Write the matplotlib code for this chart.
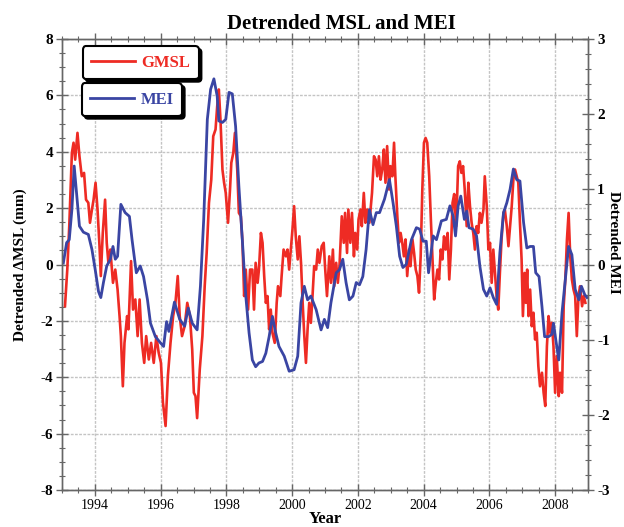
import matplotlib
matplotlib.use("Agg")
import matplotlib.pyplot as plt
from matplotlib.lines import Line2D
from matplotlib.ticker import MultipleLocator

# GMSL (detrended, mm), left axis
gmsl_year = [1993.09, 1993.16, 1993.22, 1993.30, 1993.35, 1993.40, 1993.47, 1993.53, 1993.60, 1993.67,
             1993.73, 1993.80, 1993.85, 1993.91, 1993.96, 1994.02, 1994.08, 1994.14, 1994.18, 1994.24,
             1994.31, 1994.36, 1994.41, 1994.47, 1994.55, 1994.62, 1994.69, 1994.75, 1994.79, 1994.85,
             1994.90, 1994.98, 1995.02, 1995.10, 1995.16, 1995.23, 1995.30, 1995.36, 1995.43, 1995.50,
             1995.56, 1995.64, 1995.71, 1995.79, 1995.87, 1995.94, 1996.01, 1996.07, 1996.15, 1996.22,
             1996.30, 1996.38, 1996.45, 1996.52, 1996.58, 1996.65, 1996.73, 1996.81, 1996.89, 1996.96,
             1997.01, 1997.06, 1997.11, 1997.19, 1997.27, 1997.34, 1997.40, 1997.47, 1997.54, 1997.60,
             1997.67, 1997.72, 1997.77, 1997.82, 1997.88, 1997.93, 1997.98, 1998.05, 1998.11, 1998.15,
             1998.21, 1998.26, 1998.33, 1998.38, 1998.44, 1998.49, 1998.54, 1998.59, 1998.66, 1998.72,
             1998.79, 1998.84, 1998.89, 1998.95, 1998.99, 1999.05, 1999.10, 1999.15, 1999.20, 1999.25,
             1999.30, 1999.35, 1999.40, 1999.47, 1999.53, 1999.57, 1999.64, 1999.68, 1999.74, 1999.81,
             1999.86, 1999.91, 1999.96, 2000.01, 2000.06, 2000.11, 2000.17, 2000.22, 2000.27, 2000.32,
             2000.37, 2000.42, 2000.47, 2000.52, 2000.57, 2000.62, 2000.67, 2000.73, 2000.78, 2000.83,
             2000.90, 2000.96, 2001.00, 2001.06, 2001.13, 2001.18, 2001.24, 2001.28, 2001.34, 2001.39,
             2001.44, 2001.51, 2001.57, 2001.61, 2001.67, 2001.71, 2001.77, 2001.82, 2001.88, 2001.92,
             2001.98, 2002.02, 2002.08, 2002.12, 2002.18, 2002.23, 2002.28, 2002.35, 2002.43, 2002.49,
             2002.54, 2002.59, 2002.64, 2002.69, 2002.74, 2002.79, 2002.84, 2002.89, 2002.95, 2002.99,
             2003.05, 2003.10, 2003.14, 2003.20, 2003.25, 2003.30, 2003.35, 2003.40, 2003.45, 2003.50,
             2003.56, 2003.60, 2003.66, 2003.71, 2003.76, 2003.81, 2003.86, 2003.91, 2003.96, 2004.01,
             2004.06, 2004.11, 2004.17, 2004.22, 2004.27, 2004.32, 2004.37, 2004.42, 2004.47, 2004.52,
             2004.57, 2004.62, 2004.67, 2004.73, 2004.78, 2004.83, 2004.88, 2004.93, 2004.99, 2005.05,
             2005.10, 2005.15, 2005.20, 2005.25, 2005.31, 2005.36, 2005.41, 2005.46, 2005.51, 2005.56,
             2005.61, 2005.66, 2005.71, 2005.76, 2005.82, 2005.86, 2005.92, 2005.97, 2006.02, 2006.07,
             2006.12, 2006.17, 2006.22, 2006.27, 2006.32, 2006.37, 2006.43, 2006.47, 2006.53, 2006.58,
             2006.63, 2006.68, 2006.73, 2006.78, 2006.83, 2006.88, 2006.93, 2006.98, 2007.02, 2007.07,
             2007.11, 2007.15, 2007.19, 2007.24, 2007.29, 2007.34, 2007.39, 2007.44, 2007.49, 2007.54,
             2007.60, 2007.65, 2007.70, 2007.75, 2007.80, 2007.85, 2007.90, 2007.95, 2008.00, 2008.05,
             2008.11, 2008.15, 2008.21, 2008.26, 2008.31, 2008.36, 2008.41, 2008.46, 2008.51, 2008.56,
             2008.61, 2008.66, 2008.71, 2008.76, 2008.82, 2008.87, 2008.92]
gmsl_mm = [-1.48, -0.18, 1.36, 3.96, 4.32, 3.72, 4.67, 3.84, 3.13, 3.25,
           2.30, 2.19, 1.48, 1.95, 2.30, 2.90, 1.95, 0.65, -0.41, 1.12,
           2.30, 0.77, 0.06, 0.53, -0.65, -0.18, -0.89, -1.83, -2.54, -4.32,
           -2.78, -1.83, -2.30, 0.12, -1.60, -1.24, -2.54, -1.24, -2.78, -3.49,
           -2.54, -3.37, -2.78, -3.49, -2.54, -3.13, -3.49, -4.90, -5.73, -3.96,
           -2.78, -1.83, -1.36, -0.41, -1.83, -2.54, -2.19, -1.36, -1.83, -3.01,
           -4.55, -4.67, -5.45, -3.72, -2.54, -0.77, 0.41, 2.19, 3.01, 4.55,
           4.79, 5.61, 6.21, 5.14, 3.37, 2.90, 2.54, 1.48, 2.66, 3.61,
           3.96, 4.67, 3.37, 1.83, 1.71, 0.77, -1.12, -0.18, -1.60, -0.18,
           -0.18, -1.60, 0.06, -0.65, -0.18, 1.12, 0.77, -0.41, -1.36, -1.12,
           -2.30, -1.60, -2.42, -2.78, -1.36, -0.77, -1.12, -0.41, 0.53, 0.29,
           0.53, -0.18, 0.53, 1.24, 2.07, 1.00, 0.18, 1.00, 0.06, -1.36,
           -2.54, -3.49, -2.30, -1.36, -2.07, -1.12, -0.06, -0.18, 0.53, 0.06,
           0.65, 0.77, -0.06, -1.12, 0.29, -0.65, 0.53, -0.77, 0.06, -0.65,
           -0.06, 1.71, 0.77, 1.83, 0.41, 1.95, 0.77, 1.83, 0.29, 1.12,
           0.53, 1.60, 1.95, 1.36, 2.54, 1.48, 1.95, 1.48, 2.54, 3.84,
           3.72, 3.13, 3.84, 3.01, 3.37, 4.08, 2.90, 4.20, 2.66, 3.49,
           3.13, 4.32, 3.13, 1.71, 0.77, 1.12, 0.77, 0.29, 0.89, -0.41,
           0.53, -0.06, 0.89, 0.41, -0.18, -0.41, -1.00, 0.29, 2.66, 4.32,
           4.49, 4.32, 3.13, 1.60, 0.18, -1.24, -0.65, -0.18, -0.53, 0.53,
           0.18, 1.00, 0.53, 1.12, -0.53, 0.53, 2.19, 2.50, 1.36, 3.49,
           3.66, 3.25, 3.49, 2.66, 1.36, 2.90, 2.07, 1.48, 1.12, 0.53,
           1.36, 1.12, 1.83, 1.48, 1.95, 3.13, 2.07, 0.53, 0.77, -0.65,
           0.53, -0.30, -1.12, -1.60, -0.30, 0.89, 1.83, 1.95, 1.36, 0.65,
           1.36, 2.07, 3.01, 3.37, 3.13, 2.90, 1.48, 0.18, -1.83, -0.30,
           -1.36, -0.18, -1.83, -0.89, -2.19, -1.71, -2.66, -2.42, -3.61, -4.32,
           -3.84, -4.55, -5.02, -2.90, -1.83, -2.42, -2.07, -2.90, -4.55, -3.25,
           -4.67, -3.84, -4.55, -1.48, -0.53, 0.89, 1.83, 0.29, -0.53, -0.89,
           -1.12, -2.54, -1.12, -0.77, -1.48, -1.12, -1.36]

# MEI (detrended), right axis
mei_year = [1993.04, 1993.14, 1993.22, 1993.30, 1993.37, 1993.45, 1993.53, 1993.65, 1993.80, 1993.91,
            1994.01, 1994.11, 1994.18, 1994.26, 1994.36, 1994.47, 1994.55, 1994.62, 1994.69, 1994.79,
            1994.92, 1995.05, 1995.13, 1995.26, 1995.38, 1995.48, 1995.60, 1995.69, 1995.84, 1995.99,
            1996.09, 1996.18, 1996.25, 1996.42, 1996.58, 1996.73, 1996.84, 1996.96, 1997.11, 1997.21,
            1997.31, 1997.42, 1997.52, 1997.62, 1997.72, 1997.77, 1997.88, 1997.98, 1998.08, 1998.18,
            1998.28, 1998.38, 1998.49, 1998.59, 1998.69, 1998.79, 1998.89, 1998.99, 1999.10, 1999.20,
            1999.30, 1999.40, 1999.50, 1999.60, 1999.76, 1999.91, 2000.06, 2000.17, 2000.27, 2000.37,
            2000.47, 2000.57, 2000.73, 2000.88, 2000.98, 2001.08, 2001.18, 2001.34, 2001.44, 2001.54,
            2001.64, 2001.74, 2001.85, 2001.95, 2002.05, 2002.15, 2002.25, 2002.35, 2002.46, 2002.56,
            2002.66, 2002.81, 2002.96, 2003.07, 2003.17, 2003.27, 2003.37, 2003.47, 2003.63, 2003.78,
            2003.88, 2003.98, 2004.08, 2004.15, 2004.29, 2004.39, 2004.54, 2004.69, 2004.80, 2004.90,
            2004.97, 2005.05, 2005.13, 2005.24, 2005.31, 2005.38, 2005.51, 2005.61, 2005.71, 2005.82,
            2005.92, 2006.02, 2006.12, 2006.22, 2006.32, 2006.43, 2006.53, 2006.63, 2006.73, 2006.83,
            2006.93, 2007.04, 2007.14, 2007.24, 2007.34, 2007.41, 2007.51, 2007.60, 2007.68, 2007.80,
            2007.90, 2007.95, 2008.02, 2008.11, 2008.21, 2008.31, 2008.41, 2008.51, 2008.61, 2008.72,
            2008.80, 2008.90, 2008.97]
mei_val = [0.02, 0.29, 0.33, 0.73, 1.31, 0.91, 0.51, 0.43, 0.40, 0.20,
           -0.07, -0.36, -0.44, -0.24, -0.02, 0.07, 0.24, 0.07, 0.11, 0.80,
           0.69, 0.64, 0.33, -0.11, -0.02, -0.16, -0.47, -0.78, -0.96, -1.04,
           -1.09, -0.76, -0.89, -0.50, -0.73, -0.82, -0.58, -0.78, -0.87, -0.29,
           0.60, 1.93, 2.33, 2.47, 2.24, 1.91, 1.89, 1.93, 2.29, 2.27,
           1.84, 1.04, 0.29, -0.42, -0.91, -1.27, -1.36, -1.31, -1.29, -1.18,
           -0.96, -0.69, -0.91, -1.09, -1.22, -1.42, -1.40, -1.22, -0.51, -0.29,
           -0.47, -0.42, -0.60, -0.87, -0.73, -0.84, -0.51, -0.11, -0.07, 0.07,
           -0.24, -0.47, -0.42, -0.24, -0.27, -0.16, 0.20, 0.73, 0.53, 0.69,
           0.69, 0.87, 1.13, 0.82, 0.51, 0.11, -0.04, 0.00, 0.33, 0.49,
           0.47, 0.31, 0.31, -0.11, 0.38, 0.33, 0.58, 0.60, 0.78, 0.64,
           0.38, 0.78, 0.91, 0.60, 0.71, 0.49, 0.47, 0.38, -0.02, -0.33,
           -0.42, -0.31, -0.44, -0.53, 0.16, 0.69, 0.82, 1.00, 1.27, 1.13,
           1.11, 0.56, 0.22, 0.24, 0.24, -0.11, -0.16, -0.56, -0.96, -0.96,
           -0.93, -0.78, -1.00, -1.27, -0.64, -0.20, 0.24, 0.13, -0.33, -0.47,
           -0.29, -0.40, -0.44]

RED = "#ee2b24"
BLUE = "#3a45a3"
AXC = "#666666"

plt.rcParams["font.family"] = ["Liberation Serif", "DejaVu Serif"]
plt.rcParams["axes.unicode_minus"] = False  # reference uses plain hyphens

fig = plt.figure(figsize=(6.24, 5.27), dpi=100)
ax = fig.add_axes([0.0994, 0.0702, 0.8429, 0.8558])
ax2 = ax.twinx()

ax.plot(gmsl_year, gmsl_mm, color=RED, lw=1.9, solid_joinstyle="round")
ax2.plot(mei_year, mei_val, color=BLUE, lw=2.0, solid_joinstyle="round")

ax.set_xlim(1993, 2009)
ax.set_ylim(-8, 8)
ax2.set_ylim(-3, 3)

ax.xaxis.set_major_locator(MultipleLocator(2))
ax.xaxis.set_minor_locator(MultipleLocator(0.5))
ax.yaxis.set_major_locator(MultipleLocator(2))
ax.yaxis.set_minor_locator(MultipleLocator(0.5))
ax2.yaxis.set_major_locator(MultipleLocator(1))
ax2.yaxis.set_minor_locator(MultipleLocator(0.2))

ax.grid(which="major", color="#c4c4c4", lw=1.0, ls=(0, (2, 1)))
ax.set_axisbelow(True)

for a in (ax, ax2):
    for s in a.spines.values():
        s.set_color(AXC)
        s.set_linewidth(1.0)
ax.tick_params(which="both", direction="inout", top=True, right=False, color=AXC, pad=2)
ax.tick_params(which="major", length=9, width=1.0)
ax.tick_params(which="minor", length=5, width=0.8)
ax2.tick_params(which="both", direction="inout", color=AXC, pad=2)
ax2.tick_params(which="major", length=9, width=1.0)
ax2.tick_params(which="minor", length=5, width=0.8)

ax.tick_params(axis="x", labelsize=10)
ax.tick_params(axis="y", labelsize=11)
ax2.tick_params(axis="y", labelsize=11)
for lab in ax.get_yticklabels() + ax2.get_yticklabels():
    lab.set_fontweight("bold")

ax.set_xlabel("Year", fontsize=12, fontweight="bold")
ax.xaxis.set_label_coords(0.5, -0.047)
ax.set_ylabel("Detrended \u0394MSL (mm)", fontsize=11, fontweight="bold")
ax.yaxis.set_label_coords(-0.066, 0.5)
ax2.set_ylabel("Detrended MEI", fontsize=11, fontweight="bold", rotation=270)
ax2.yaxis.set_label_coords(1.06, 0.55)

fig.text(0.547, 0.955, "Detrended MSL and MEI", ha="center", va="center",
         fontsize=15, fontweight="bold")

leg_kw = dict(loc="upper left", borderaxespad=0, frameon=True, fancybox=True, framealpha=1,
              edgecolor="black", handlelength=2.6, handletextpad=0.4, borderpad=0.5,
              shadow={"color": "black", "alpha": 1.0},
              prop={"weight": "bold", "size": 12})
leg1 = ax2.legend([Line2D([], [], color=RED, lw=2)], ["GMSL"], labelcolor=RED,
                  bbox_to_anchor=(0.040, 0.984), **leg_kw)
leg1.get_frame().set_linewidth(1.5)
ax2.add_artist(leg1)
leg2 = ax2.legend([Line2D([], [], color=BLUE, lw=2)], ["MEI"], labelcolor=BLUE,
                  bbox_to_anchor=(0.038, 0.902), **leg_kw)
leg2.get_frame().set_linewidth(1.5)

fig.savefig("out.png", dpi=100)
